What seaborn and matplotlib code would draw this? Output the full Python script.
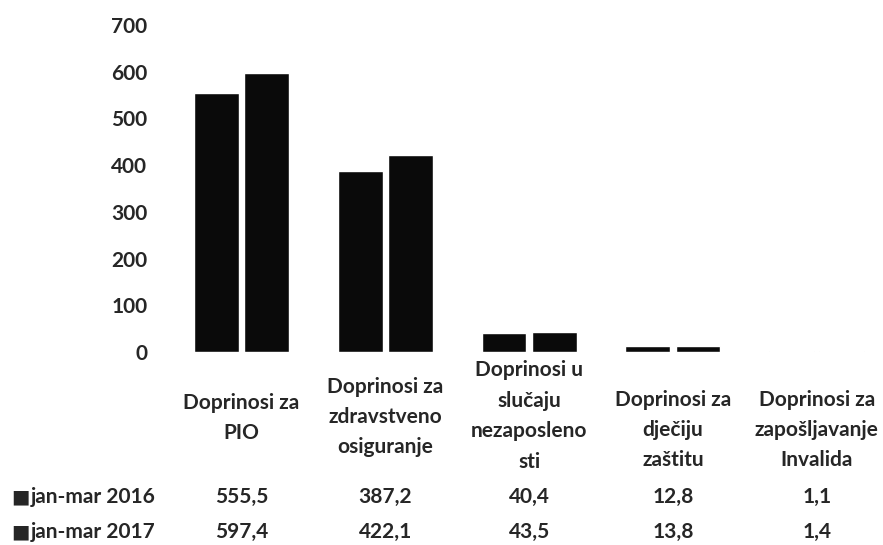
import numpy as np
import pandas as pd
import seaborn as sb
import matplotlib.pyplot as plt
from matplotlib.transforms import blended_transform_factory

# podaci (mil. KM)
kategorije = ["Doprinosi za\nPIO",
              "Doprinosi za\nzdravstveno\nosiguranje",
              "Doprinosi u\nslučaju\nnezaposleno\nsti",
              "Doprinosi za\ndječiju\nzaštitu",
              "Doprinosi za\nzapošljavanje\nInvalida"]
periodi = ["jan-mar 2016", "jan-mar 2017"]
vrijednosti_2016 = [555.5, 387.2, 40.4, 12.8, 1.1]
vrijednosti_2017 = [597.4, 422.1, 43.5, 13.8, 1.4]
y_ticks = [0, 100, 200, 300, 400, 500, 600, 700]

sb.set_theme(style="white")
plt.rcParams['font.family'] = ['Lato', 'DejaVu Sans']
plt.rcParams['font.weight'] = 'bold'

df = pd.DataFrame({
    "kategorija": kategorije * 2,
    "period": [periodi[0]] * 5 + [periodi[1]] * 5,
    "vrijednost": vrijednosti_2016 + vrijednosti_2017,
})

W, H = 883, 545
fig = plt.figure(figsize=(W / 100, H / 100), dpi=100)
ax = fig.add_axes([169.6 / W, 1 - 352 / H, 719 / W, (352 - 25) / H])

sb.barplot(data=df, x="kategorija", y="vrijednost", hue="period",
           order=kategorije, hue_order=periodi,
           palette=["#0a0a0a", "#0a0a0a"], saturation=1,
           width=0.7, gap=0.11, legend=False, ax=ax)

ax.set_xlim(-0.5, 4.5)
ax.set_ylim(0, 700)
ax.set_yticks(y_ticks)
ax.set_yticklabels([str(t) for t in y_ticks], fontsize=15, fontweight='bold')
ax.tick_params(axis='y', length=0, pad=16)
ax.set_xticks([])
ax.set_xlabel("")
ax.set_ylabel("")
for s in ax.spines.values():
    s.set_visible(False)

tr = blended_transform_factory(ax.transData, fig.transFigure)
label_y = [418, 417, 416, 430, 430]
for i, lab in enumerate(kategorije):
    ax.text(i, 1 - label_y[i] / H, lab, transform=tr, ha='center', va='center',
            fontsize=15, linespacing=1.65, clip_on=False)

# tablica s podacima
row_y = [497, 532]
for r, vals in enumerate([vrijednosti_2016, vrijednosti_2017]):
    y = 1 - row_y[r] / H
    fig.text(20 / W, y, "■", ha='center', va='center', fontsize=14,
             family=['DejaVu Sans'])
    fig.text(31 / W, y, periodi[r], ha='left', va='center', fontsize=15)
    for i, v in enumerate(vals):
        ax.text(i, y, f"{v:.1f}".replace('.', ','), transform=tr,
                ha='center', va='center', fontsize=15, clip_on=False)

fig.savefig("out.png", dpi=100, facecolor="white")
